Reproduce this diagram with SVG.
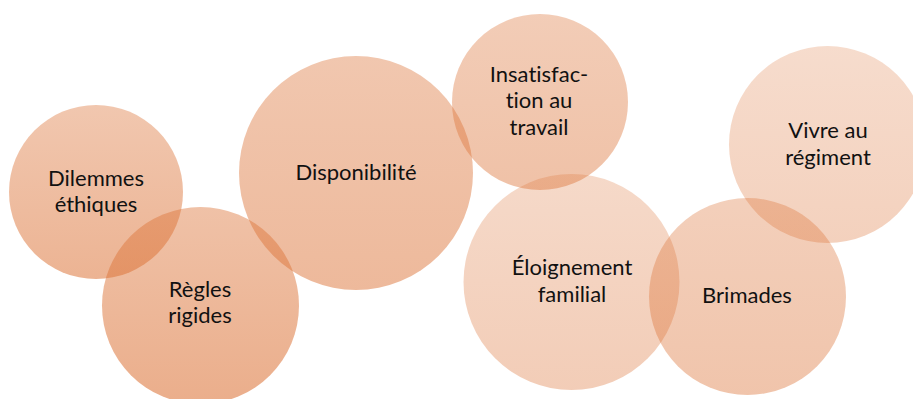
<svg xmlns="http://www.w3.org/2000/svg" width="913" height="399" viewBox="0 0 913 399">
<style>
text{font-family:Lato,"Noto Sans","Liberation Sans",sans-serif;font-size:22px;fill:#111;text-anchor:middle;font-variant-ligatures:none;font-feature-settings:"liga" 0}
</style>
<defs>
<linearGradient id="g1" x1="0" y1="0" x2="0" y2="1"><stop offset="0" stop-color="#DC7337" stop-opacity="0.40"/><stop offset="1" stop-color="#DC7337" stop-opacity="0.54"/></linearGradient>
<linearGradient id="g2" x1="0" y1="0" x2="0" y2="1"><stop offset="0" stop-color="#DC7337" stop-opacity="0.44"/><stop offset="1" stop-color="#DC7337" stop-opacity="0.58"/></linearGradient>
<linearGradient id="g3" x1="0" y1="0" x2="0" y2="1"><stop offset="0" stop-color="#DC7337" stop-opacity="0.40"/><stop offset="1" stop-color="#DC7337" stop-opacity="0.50"/></linearGradient>
<linearGradient id="g4" x1="0" y1="0" x2="0" y2="1"><stop offset="0" stop-color="#DC7337" stop-opacity="0.36"/><stop offset="1" stop-color="#DC7337" stop-opacity="0.44"/></linearGradient>
<linearGradient id="g5" x1="0" y1="0" x2="0" y2="1"><stop offset="0" stop-color="#DC7337" stop-opacity="0.27"/><stop offset="1" stop-color="#DC7337" stop-opacity="0.36"/></linearGradient>
<linearGradient id="g6" x1="0" y1="0" x2="0" y2="1"><stop offset="0" stop-color="#DC7337" stop-opacity="0.34"/><stop offset="1" stop-color="#DC7337" stop-opacity="0.42"/></linearGradient>
<linearGradient id="g7" x1="0" y1="0" x2="0" y2="1"><stop offset="0" stop-color="#DC7337" stop-opacity="0.25"/><stop offset="1" stop-color="#DC7337" stop-opacity="0.33"/></linearGradient>
</defs>
<g id="connectors"/>
<g id="n1"><circle cx="96" cy="192" r="87" fill="url(#g1)"/><text x="96" y="186">Dilemmes</text><text x="96" y="212">éthiques</text></g>
<g id="n2"><circle cx="200.5" cy="305.5" r="98.5" fill="url(#g2)"/><text x="200" y="297">Règles</text><text x="200" y="323">rigides</text></g>
<g id="n3"><circle cx="356" cy="173" r="117" fill="url(#g3)"/><text x="356" y="180">Disponibilité</text></g>
<g id="n4"><circle cx="540" cy="102" r="88" fill="url(#g4)"/><text x="539" y="82">Insatisfac-</text><text x="539" y="108">tion au</text><text x="539" y="135">travail</text></g>
<g id="n5"><circle cx="571.5" cy="282" r="108" fill="url(#g5)"/><text x="572" y="275">Éloignement</text><text x="572" y="302">familial</text></g>
<g id="n6"><circle cx="747.5" cy="296.5" r="98.5" fill="url(#g6)"/><text x="747" y="303">Brimades</text></g>
<g id="n7"><circle cx="827.5" cy="144.5" r="98.5" fill="url(#g7)"/><text x="828" y="138">Vivre au</text><text x="828" y="165">régiment</text></g>
</svg>
